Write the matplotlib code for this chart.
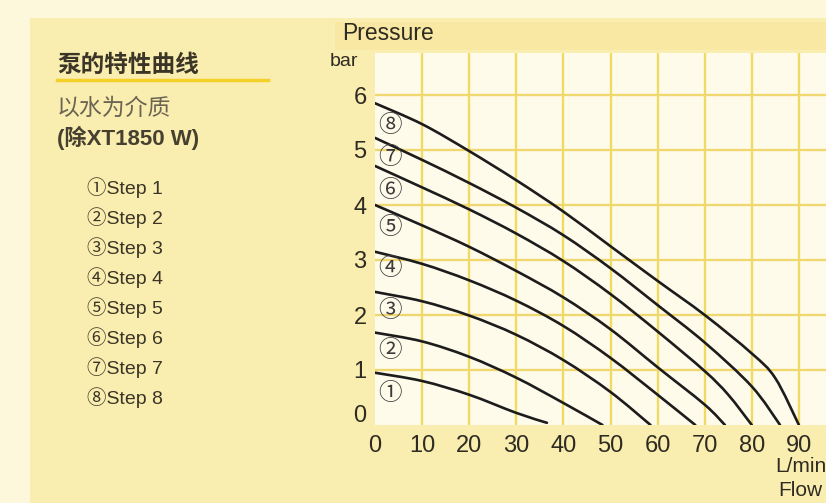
import matplotlib.pyplot as plt
from matplotlib.patches import Rectangle, PathPatch
from matplotlib.path import Path
from matplotlib.transforms import ScaledTranslation

plt.rcParams['font.family'] = ['Liberation Sans', 'Noto Sans CJK SC', 'DejaVu Sans']

# flow (L/min) and pressure (bar)
flow_1 = [0, 10, 20, 30, 36.5]
bar_1 = [0.95, 0.8, 0.55, 0.22, 0.04]
flow_2 = [0, 10, 20, 30, 40, 48.3]
bar_2 = [1.68, 1.52, 1.24, 0.86, 0.4, 0.0]
flow_3 = [0, 10, 20, 30, 40, 50, 58.5]
bar_3 = [2.42, 2.25, 1.99, 1.64, 1.18, 0.6, 0.0]
flow_4 = [0, 10, 20, 30, 40, 50, 60, 68]
bar_4 = [3.15, 2.93, 2.63, 2.26, 1.8, 1.22, 0.55, 0.0]
flow_5 = [0, 10, 20, 30, 40, 50, 60, 70, 74.3]
bar_5 = [4.0, 3.63, 3.24, 2.8, 2.32, 1.74, 1.05, 0.37, 0.0]
flow_6 = [0, 10, 20, 30, 40, 50, 60, 70, 75, 80]
bar_6 = [4.71, 4.32, 3.92, 3.48, 2.98, 2.38, 1.7, 0.98, 0.55, 0.0]
flow_7 = [0, 10, 20, 30, 40, 50, 60, 70, 80, 86]
bar_7 = [5.22, 4.82, 4.4, 3.95, 3.45, 2.85, 2.18, 1.5, 0.7, 0.0]
flow_8 = [0, 10, 20, 30, 40, 50, 60, 70, 80, 85, 90]
bar_8 = [5.85, 5.47, 4.98, 4.45, 3.88, 3.25, 2.62, 2.0, 1.3, 0.85, 0.0]

flows = [flow_1, flow_2, flow_3, flow_4, flow_5, flow_6, flow_7, flow_8]
pressures = [bar_1, bar_2, bar_3, bar_4, bar_5, bar_6, bar_7, bar_8]
marks = ['①', '②', '③', '④', '⑤', '⑥', '⑦', '⑧']
step_names = ['Step 1', 'Step 2', 'Step 3', 'Step 4', 'Step 5', 'Step 6', 'Step 7', 'Step 8']
mark_y = [0.58, 1.36, 2.09, 2.85, 3.6, 4.27, 4.87, 5.45]
x_ticks = [0, 10, 20, 30, 40, 50, 60, 70, 80, 90]
y_ticks = [0, 1, 2, 3, 4, 5, 6]


def smooth_path(xs, ys):
    # bezier path passing through the read points
    pts = list(zip(xs, ys))
    verts = [pts[0]]
    codes = [Path.MOVETO]
    n = len(pts)
    for i in range(n - 1):
        p0 = pts[i - 1] if i > 0 else pts[i]
        p1 = pts[i]
        p2 = pts[i + 1]
        p3 = pts[i + 2] if i + 2 < n else pts[i + 1]
        c1 = (p1[0] + (p2[0] - p0[0]) / 6, p1[1] + (p2[1] - p0[1]) / 6)
        c2 = (p2[0] - (p3[0] - p1[0]) / 6, p2[1] - (p3[1] - p1[1]) / 6)
        verts += [c1, c2, p2]
        codes += [Path.CURVE4] * 3
    return Path(verts, codes)


W, H = 826, 503
fig = plt.figure(figsize=(W / 100, H / 100), dpi=100)
fig.patch.set_facecolor('#fdf7dc')

# yellow card behind everything
fig.add_artist(Rectangle((30 / W, 0), 1, (H - 18) / H, transform=fig.transFigure,
                         facecolor='#faedb0', edgecolor='none', zorder=0))
fig.add_artist(Rectangle((335 / W, (H - 50) / H), 1, 28 / H, transform=fig.transFigure,
                         facecolor='#f9e8a4', edgecolor='none', zorder=0))

# left side text
fig.text(57 / W, 1 - 65 / H, '泵的特性曲线', fontsize=17, fontweight='bold',
         color='#3a3526', va='center')
fig.add_artist(plt.Line2D([57 / W, 268 / W], [1 - 80 / H, 1 - 80 / H],
                          transform=fig.transFigure, color='#f3d12a', lw=2.5))
fig.text(57 / W, 1 - 108 / H, '以水为介质', fontsize=16.5, color='#6a6452', va='center')
fig.text(57 / W, 1 - 138 / H, '(除XT1850 W)', fontsize=16, fontweight='bold',
         color='#45402f', va='center')
for i, (m, s) in enumerate(zip(marks, step_names)):
    fig.text(87 / W, 1 - (188 + 30 * i) / H, m + s, fontsize=14,
             color='#3a3526', va='center')

ax = fig.add_axes([375 / W, (H - 425) / H, (W - 375) / W, 372 / H])
ax.set_facecolor('#fffbeb')
for sp in ax.spines.values():
    sp.set_visible(False)
ax.set_xlim(0, (W - 375) / 4.71)
ax.set_ylim(0, 372 / 55)

for xv in x_ticks[1:]:
    ax.axvline(xv, color='#f1da62', lw=1.7, zorder=1)
for yv in y_ticks[1:]:
    ax.axhline(yv, color='#efd870', lw=1.7, zorder=1)

for fx, py in zip(flows, pressures):
    ax.add_patch(PathPatch(smooth_path(fx, py), facecolor='none', edgecolor='#1c1c1c',
                           lw=1.9, zorder=3, capstyle='round'))

for m, yv in zip(marks, mark_y):
    ax.text(3.2, yv, m, fontsize=17, ha='center', va='center', color='#3c3c3c',
            family=['Noto Sans CJK SC', 'DejaVu Sans'], zorder=4)

ax.set_xticks(x_ticks)
ax.set_xticklabels([str(v) for v in x_ticks], fontsize=17, color='#2e2b22')
ax.set_yticks(y_ticks)
ax.set_yticklabels([str(v) for v in y_ticks], fontsize=17, color='#2e2b22')
ax.tick_params(length=0, pad=6)
ax.tick_params(axis='x', pad=7)
ylab0 = ax.get_yticklabels()[0]
ylab0.set_transform(ylab0.get_transform() + ScaledTranslation(0, 0.12, fig.dpi_scale_trans))

fig.text(342 / W, 1 - 34 / H, 'Pressure', fontsize=16.5, color='#2e2b22', va='center')
fig.text(330 / W, 1 - 62 / H, 'bar', fontsize=14, color='#2e2b22', va='center')
fig.text(775 / W, 1 - 466 / H, 'L/min', fontsize=15, color='#2e2b22', va='center')
fig.text(778 / W, 1 - 490 / H, 'Flow', fontsize=15, color='#2e2b22', va='center')

fig.savefig('out.png', dpi=100, facecolor=fig.get_facecolor())
